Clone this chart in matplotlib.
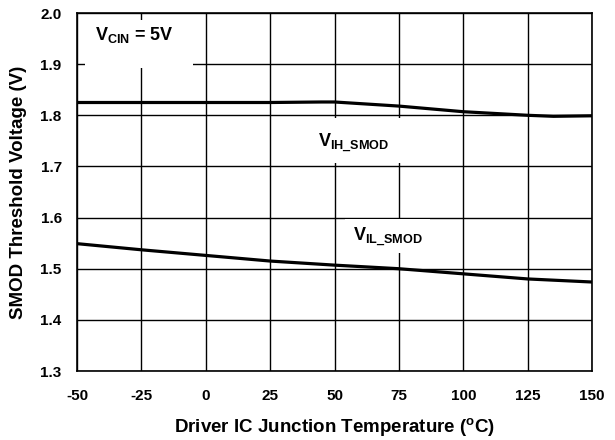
import numpy as np
import matplotlib
matplotlib.use("Agg")
import matplotlib.pyplot as plt
import matplotlib.patches as mpatches

plt.rcParams['font.family'] = ['Liberation Sans', 'DejaVu Sans']
plt.rcParams['font.weight'] = 'bold'
plt.rcParams['mathtext.fontset'] = 'custom'
plt.rcParams['mathtext.rm'] = 'Liberation Sans:bold'
plt.rcParams['mathtext.bf'] = 'Liberation Sans:bold'
plt.rcParams['mathtext.it'] = 'Liberation Sans:bold'

# data
temp = [-50, -25, 0, 25, 45, 50, 75, 100, 125, 135, 150]
v_ih = [1.825, 1.825, 1.825, 1.825, 1.826, 1.826, 1.818, 1.807, 1.800, 1.798, 1.799]
temp_il = [-50, -25, 0, 25, 50, 75, 100, 125, 150]
v_il = [1.549, 1.537, 1.526, 1.515, 1.507, 1.500, 1.490, 1.480, 1.474]

x_ticks = [-50, -25, 0, 25, 50, 75, 100, 125, 150]
y_ticks = [1.3, 1.4, 1.5, 1.6, 1.7, 1.8, 1.9, 2.0]

fig = plt.figure(figsize=(6.15, 4.4), dpi=100)
ax = fig.add_axes([77 / 615, (440 - 371) / 440, (592 - 77) / 615, (371 - 13) / 440])

ax.plot(temp, v_ih, color='black', lw=2.3, zorder=3)
ax.plot(temp_il, v_il, color='black', lw=2.3, zorder=3)

ax.set_xlim(-50, 150)
ax.set_ylim(1.3, 2.0)
ax.set_xticks(x_ticks)
ax.set_yticks(y_ticks)
ax.set_xticklabels([str(t) for t in x_ticks])
ax.set_yticklabels([f"{v:.1f}" for v in y_ticks])
ax.tick_params(length=0, labelsize=11, pad=11)
ax.tick_params(axis='x', pad=13)
ax.grid(True, color='black', lw=1.0)
for s in ax.spines.values():
    s.set_linewidth(1.2)
    s.set_zorder(4)

ax.set_xlabel(r'Driver IC Junction Temperature ($^{\mathrm{o}}$C)', fontsize=13.5, fontweight='bold', labelpad=9)
ax.set_ylabel('SMOD Threshold Voltage (V)', fontsize=13.5, fontweight='bold', labelpad=10)

# white patches that break the grid behind the labels
for (x0, y0, w, h) in [(-47, 1.893, 42, 0.093), (40, 1.706, 39, 0.088), (54, 1.531, 33, 0.067)]:
    ax.add_patch(mpatches.Rectangle((x0, y0), w, h, facecolor='white', edgecolor='none', zorder=2))

ax.text(-43, 1.957, r'$\mathrm{V}_{\mathrm{CIN}}$ = 5V', fontsize=13, ha='left', va='center', zorder=3)
ax.text(57.3, 1.745, r'$\mathrm{V}_{\mathrm{IH\_SMOD}}$', fontsize=13, ha='center', va='center', zorder=3)
ax.text(70.7, 1.561, r'$\mathrm{V}_{\mathrm{IL\_SMOD}}$', fontsize=13, ha='center', va='center', zorder=3)

fig.savefig('out.png', dpi=100)
